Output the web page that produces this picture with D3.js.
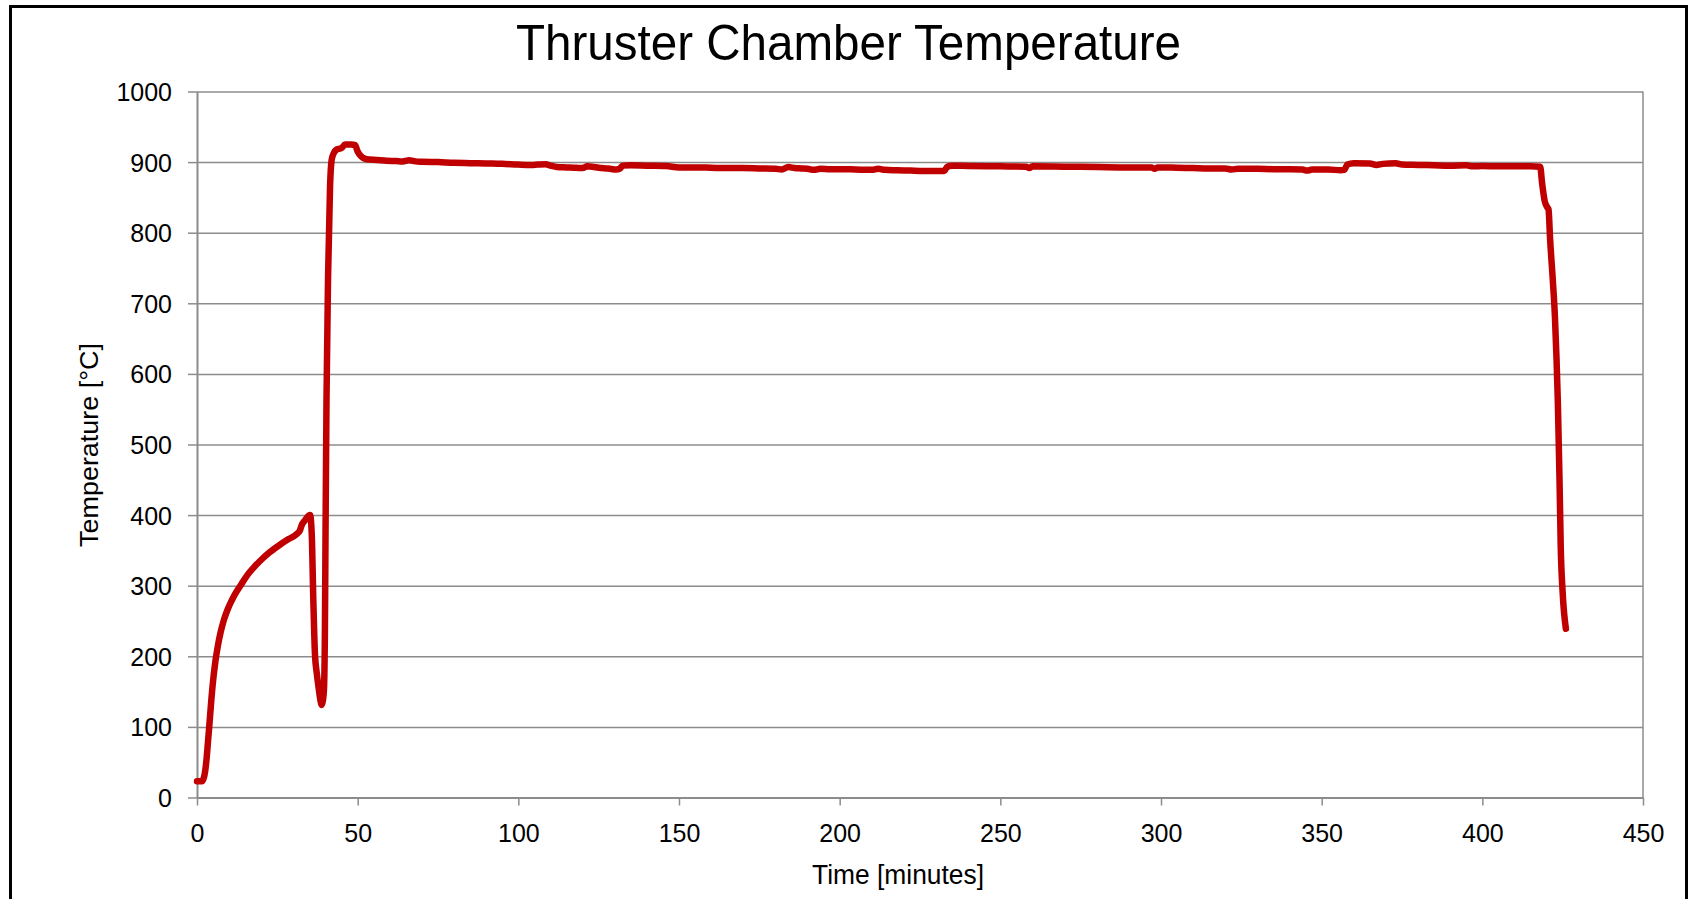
<!DOCTYPE html>
<html>
<head>
<meta charset="utf-8">
<script src="https://cdn.jsdelivr.net/npm/d3@7"></script>
<style>
  html, body { margin: 0; padding: 0; background: #fff; }
  svg { display: block; }
  text { font-family: "Liberation Sans", Arial, sans-serif; fill: #000; }
</style>
</head>
<body>
<svg id="chart" width="1690" height="899"></svg>
<script>
// ---- data ----
const chartTitle = "Thruster Chamber Temperature";
const xAxisTitle = "Time [minutes]";
const yAxisTitle = "Temperature [°C]";
const xTicks = [0, 50, 100, 150, 200, 250, 300, 350, 400, 450];
const yTicks = [0, 100, 200, 300, 400, 500, 600, 700, 800, 900, 1000];

const timeMin = [
  0, 1.5, 2.0, 2.5, 3.0, 3.4, 3.8, 4.4, 5.0, 5.7, 6.5, 7.4, 8.4, 9.5, 10.8, 12.2, 13.8, 15.5,
  17.5, 19.6, 22.5, 25.8, 28.5, 31.0, 32.0, 32.6, 33.5, 35.2,
  35.7, 36.2, 36.7, 37.3, 37.8, 38.4, 38.8, 39.2, 39.5, 39.8, 40.0, 40.3, 40.8, 41.4, 41.9, 42.5,
  43.5, 45, 46.1, 48, 49.2, 50.0, 50.7, 52.8, 56, 59, 62, 64, 66, 68, 70, 75, 80, 85, 90, 95, 100,
  104, 106, 108.5, 110, 112, 115, 118, 120, 121.5, 123, 125, 128, 130.5, 131.5, 132.5, 135, 140,
  146, 150, 155, 160, 165, 170, 175, 180, 182, 184, 186, 188, 190, 192, 194, 197, 200, 205, 210,
  212, 214, 218, 222, 226, 230, 232.5, 233.5, 235, 240, 250, 258, 259, 260, 270, 280, 290, 297,
  298, 299, 305, 310, 315, 320, 322, 324, 330, 335, 340, 344, 345.5, 347, 352, 356, 357, 358, 360,
  365, 367, 369, 373, 375, 380, 385, 390, 395, 397, 400, 405, 410, 415, 418, 418.6, 419.4, 420.2,
  420.6, 421.1, 421.9, 422.6, 423.1, 423.5, 424.0, 424.4, 425.0, 426.0
];
const chamberTemp = [
  23, 23, 26, 36, 56, 78, 100, 135, 165, 192, 215, 235, 252, 266, 279, 291, 302, 314,
  325, 335, 347, 358, 366, 373, 378, 386, 392, 400,
  374, 280, 204, 175, 157, 138, 131, 138, 152, 233, 375, 563, 740, 865, 903, 912,
  918, 920, 925, 925, 924, 915, 910, 904, 903, 902, 901.5, 901, 902.5, 901, 900.5, 900, 899, 898.5, 898, 897.5, 896.5,
  896, 896.5, 897, 895, 893, 892.5, 892, 891.5, 894, 893.5, 892, 891, 889.5, 890.5, 895, 895.5, 895,
  894.5, 892.5, 892.5, 892, 891.5, 891.5, 891, 890.5, 889.5, 893, 891.5, 891, 890.5, 889, 890.5, 890, 890, 889.5, 889,
  890.5, 889, 888.5, 888, 887.5, 887.5, 887.5, 893.5, 895, 894.5, 894, 893.5, 891.5, 894, 893.5, 893, 892.5, 892.5,
  890.5, 892.5, 892, 891.5, 891, 891, 889.5, 890.5, 890.5, 890, 890, 889.5, 888, 889.5, 889.5, 888.5, 889, 896.5, 898.5,
  898, 896, 897.5, 898.5, 896.5, 896, 895.5, 895, 895.5, 894, 894.5, 894, 894, 894, 893.5, 870, 845, 836,
  833, 790, 735, 680, 620, 560, 455, 355, 290, 239
];

// ---- layout ----
const svg = d3.select("#chart");
const plot = { left: 197, right: 1643, top: 91.5, bottom: 797.5 };

const x = d3.scaleLinear().domain([0, 450]).range([plot.left, plot.right]);
const y = d3.scaleLinear().domain([0, 1000]).range([plot.bottom, plot.top]);

const gridColor = "#8c8c8c";

// outer frame
svg.append("rect")
  .attr("x", 10.5).attr("y", 6.5)
  .attr("width", 1676).attr("height", 900)
  .attr("fill", "none").attr("stroke", "#000").attr("stroke-width", 3);

// gridlines
svg.append("g")
  .attr("transform", `translate(${plot.left},0)`)
  .call(d3.axisLeft(y).tickValues(yTicks.filter(d => d > 0)).tickSize(-(plot.right - plot.left)).tickFormat(""))
  .call(g => g.select(".domain").remove())
  .call(g => g.selectAll("line").attr("stroke", gridColor).attr("stroke-width", 1.5));

// right border of plot area
svg.append("line")
  .attr("x1", plot.right).attr("x2", plot.right)
  .attr("y1", plot.top).attr("y2", plot.bottom)
  .attr("stroke", gridColor).attr("stroke-width", 1.5);

// y axis
const yAxisG = svg.append("g")
  .attr("transform", `translate(${plot.left},0)`)
  .call(d3.axisLeft(y).tickValues(yTicks).tickSize(9).tickPadding(16).tickSizeOuter(0).tickFormat(d3.format("d")));
yAxisG.select(".domain").attr("stroke", gridColor).attr("stroke-width", 2);
yAxisG.selectAll(".tick line").attr("stroke", gridColor).attr("stroke-width", 1.5);
yAxisG.selectAll(".tick text")
  .attr("font-size", 25).attr("font-family", "Liberation Sans, Arial, sans-serif")
  .attr("fill", "#000").attr("dy", "0.36em");

// x axis
const xAxisG = svg.append("g")
  .attr("transform", `translate(0,${plot.bottom})`)
  .call(d3.axisBottom(x).tickValues(xTicks).tickSize(8).tickSizeOuter(0).tickFormat(d3.format("d")));
xAxisG.select(".domain").attr("stroke", gridColor).attr("stroke-width", 2);
xAxisG.selectAll(".tick line").attr("stroke", gridColor).attr("stroke-width", 1.5);
xAxisG.selectAll(".tick text")
  .attr("font-size", 25).attr("font-family", "Liberation Sans, Arial, sans-serif")
  .attr("fill", "#000").attr("y", 44).attr("dy", null);

// data line
const pts = timeMin.map((t, i) => [t, chamberTemp[i]]);
const line = d3.line().x(d => x(d[0])).y(d => y(d[1])).curve(d3.curveMonotoneX);
svg.append("path")
  .datum(pts)
  .attr("d", line)
  .attr("fill", "none")
  .attr("stroke", "#c00000")
  .attr("stroke-width", 6.5)
  .attr("stroke-linejoin", "round")
  .attr("stroke-linecap", "round");

// title
svg.append("text")
  .attr("x", 848.5).attr("y", 60)
  .attr("text-anchor", "middle")
  .attr("font-size", 50)
  .attr("textLength", 665).attr("lengthAdjust", "spacingAndGlyphs")
  .text(chartTitle);

// x axis title
svg.append("text")
  .attr("x", 898).attr("y", 884)
  .attr("text-anchor", "middle")
  .attr("font-size", 27)
  .attr("textLength", 172).attr("lengthAdjust", "spacingAndGlyphs")
  .text(xAxisTitle);

// y axis title
svg.append("text")
  .attr("transform", "translate(98,445) rotate(-90)")
  .attr("text-anchor", "middle")
  .attr("font-size", 26)
  .attr("textLength", 204).attr("lengthAdjust", "spacingAndGlyphs")
  .text(yAxisTitle);
</script>
</body>
</html>
